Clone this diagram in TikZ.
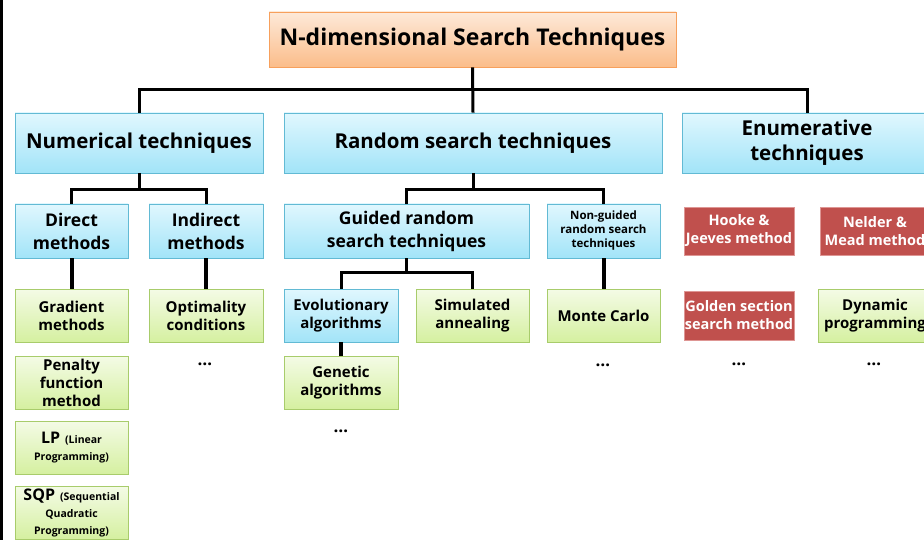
\documentclass[tikz,border=0pt]{standalone}
\usepackage{fontspec}
\setmainfont{Open Sans}[BoldFont={* Bold}]
\begin{document}
\begin{tikzpicture}[x=1pt,y=-1pt,
  every node/.style={inner sep=0pt, align=center, font=\bfseries},
  bx/.style={draw, line width=0.9pt, inner sep=0pt},
  orangebox/.style={bx, draw={rgb,255:red,247;green,160;blue,92}, top color={rgb,255:red,253;green,233;blue,217}, bottom color={rgb,255:red,251;green,189;blue,138}},
  bluebox/.style={bx, draw={rgb,255:red,98;green,186;blue,212}, top color={rgb,255:red,224;green,247;blue,254}, bottom color={rgb,255:red,162;green,228;blue,248}},
  greenbox/.style={bx, draw={rgb,255:red,168;green,204;blue,107}, top color={rgb,255:red,244;green,251;blue,230}, bottom color={rgb,255:red,213;green,240;blue,160}},
  redbox/.style={bx, draw={rgb,255:red,222;green,150;blue,148}, fill={rgb,255:red,192;green,80;blue,77}, text=white},
  conn/.style={line width=3pt, draw=black},
  thickconn/.style={line width=4pt, draw=black},
  ftitle/.style={font=\fontsize{23}{28}\selectfont\bfseries},
  fone/.style={font=\fontsize{20.5}{25}\selectfont\bfseries},
  ftwo/.style={font=\fontsize{17.5}{23}\selectfont\bfseries},
  fgreen/.style={font=\fontsize{15}{18}\selectfont\bfseries},
  fred/.style={font=\fontsize{14.5}{18}\selectfont\bfseries},
  fsmall/.style={font=\fontsize{11.5}{14}\selectfont\bfseries},
  fdots/.style={font=\fontsize{17}{18}\selectfont\bfseries}
]
\useasboundingbox[fill=white] (0,0) rectangle (924,540);
\fill[black] (0,0) rectangle (2.5,540);

% level 0
\node[orangebox, ftitle, minimum width=407pt, minimum height=55pt] (top) at (472.5,39.5) {\raisebox{-1.5pt}{N-dimensional Search Techniques}};

% level 1
\node[bluebox, fone, minimum width=248pt, minimum height=60pt] (num) at (139,143) {\raisebox{-1.5pt}{Numerical techniques}};
\node[bluebox, fone, minimum width=378pt, minimum height=60pt] (rand) at (473,143) {\raisebox{-1.5pt}{Random search techniques}};
\node[bluebox, fone, minimum width=250pt, minimum height=60pt] (enum) at (807,143) {Enumerative\\techniques};

% level 2
\node[bluebox, ftwo, minimum width=113pt, minimum height=54pt] (direct) at (71.5,231) {Direct\\methods};
\node[bluebox, ftwo, minimum width=114pt, minimum height=54pt] (indirect) at (206,231) {Indirect\\methods};
\node[bluebox, ftwo, minimum width=245pt, minimum height=54pt] (guided) at (406.5,231) {Guided random\\search techniques};
\node[bluebox, fsmall, minimum width=113pt, minimum height=54pt] (nonguided) at (603.5,231) {Non-guided\\random search\\techniques};
\node[redbox, fred, minimum width=110pt, minimum height=48pt] (hooke) at (739,231) {Hooke \&\\Jeeves method};
\node[redbox, fred, minimum width=110pt, minimum height=48pt] (nelder) at (875,231) {Nelder \&\\Mead method};

% level 3
\node[greenbox, fgreen, minimum width=113pt, minimum height=53pt] (gradient) at (71.5,315.5) {Gradient\\methods};
\node[greenbox, fgreen, minimum width=114pt, minimum height=53pt] (optimality) at (206,315.5) {Optimality\\conditions};
\node[bluebox, fgreen, minimum width=114pt, minimum height=53pt] (evol) at (341,315.5) {Evolutionary\\algorithms};
\node[greenbox, fgreen, minimum width=113pt, minimum height=53pt] (sim) at (472.5,315.5) {Simulated\\annealing};
\node[greenbox, fgreen, minimum width=113pt, minimum height=53pt] (monte) at (603.5,315.5) {Monte Carlo};
\node[redbox, fred, minimum width=110pt, minimum height=49pt] (golden) at (739,315.5) {Golden section\\search method};
\node[greenbox, fgreen, minimum width=114pt, minimum height=53pt] (dynamic) at (875,315.5) {Dynamic\\programming};

% lower
\node[greenbox, fgreen, minimum width=113pt, minimum height=53pt] (penalty) at (71.5,382.5) {Penalty\\function\\method};
\node[greenbox, fgreen, minimum width=114pt, minimum height=53pt] (genetic) at (341,382.5) {Genetic\\algorithms};
\node[greenbox, fgreen, minimum width=113pt, minimum height=53pt] (lp) at (71.5,447.5) {{\fontsize{16}{18}\selectfont LP}\,\,{\fontsize{10.5}{13}\selectfont (Linear}\\[-1pt]{\fontsize{10.5}{13}\selectfont Programming)}};
\node[greenbox, fgreen, minimum width=113pt, minimum height=53pt] (sqp) at (71.5,512.5) {{\fontsize{16}{18}\selectfont SQP}\,\,{\fontsize{10.5}{13}\selectfont (Sequential}\\[-1pt]{\fontsize{10.5}{13}\selectfont Quadratic}\\[-1pt]{\fontsize{10.5}{13}\selectfont Programming)}};

% dots
\node[fdots] (d1) at (205,364) {…};
\node[fdots] (d2) at (603,365) {…};
\node[fdots] (d3) at (341,431) {…};
\node[fdots] (d4) at (739,364) {…};
\node[fdots] (d5) at (874,364) {…};

% connectors
\coordinate (busA) at (0,90);
\coordinate (busB) at (0,190);
\coordinate (busC) at (0,273);
\draw[conn] (top.south) -- (rand.north);
\draw[conn] (num.north) -- (num.north |- busA) -- (enum.north |- busA) -- (enum.north);
\draw[conn] (num.south) -- (num.south |- busB);
\draw[conn] (direct.north) -- (direct.north |- busB) -- (indirect.north |- busB) -- (indirect.north);
\draw[conn] (rand.south) -- (rand.south |- busB);
\draw[conn] (guided.north) -- (guided.north |- busB) -- (nonguided.north |- busB) -- (nonguided.north);
\draw[conn] (guided.south) -- (guided.south |- busC);
\draw[conn] (evol.north) -- (evol.north |- busC) -- (sim.north |- busC) -- (sim.north);
\draw[thickconn] (direct.south) -- (gradient.north);
\draw[thickconn] (indirect.south) -- (optimality.north);
\draw[thickconn] (nonguided.south) -- (monte.north);
\draw[thickconn] (evol.south) -- (genetic.north);
\end{tikzpicture}
\end{document}
